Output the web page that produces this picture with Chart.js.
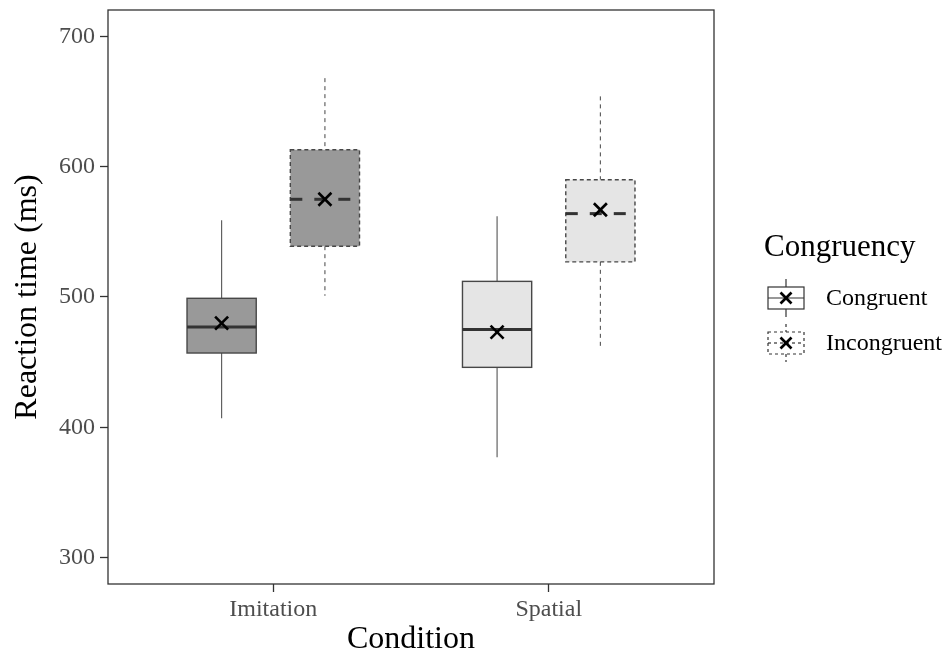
<!DOCTYPE html>
<html>
<head>
<meta charset="utf-8">
<script src="https://cdn.jsdelivr.net/npm/chart.js@4.4.1/dist/chart.umd.min.js"></script>
<style>
  html, body { margin: 0; padding: 0; background: #fff; }
</style>
</head>
<body>
<canvas id="chart" width="952" height="659"></canvas>
<script>
const conditions = ['Imitation', 'Spatial'];
const congruency = ['Congruent', 'Incongruent'];
const yTicks = [300, 400, 500, 600, 700];

// box stats (ms)
const congLower  = [407, 377];
const congQ1     = [457, 446];
const congMedian = [477, 475];
const congQ3     = [499, 512];
const congUpper  = [559, 562];
const congMean   = [480, 473];

const incLower  = [501, 460];
const incQ1     = [539, 527];
const incMedian = [575, 564];
const incQ3     = [613, 590];
const incUpper  = [668, 654];
const incMean   = [575, 567];

const fills = ['#999999', '#e5e5e5'];
const FONT = '"Liberation Serif", "Times New Roman", serif';

function boxData(q1, q3) {
    return conditions.map((c, i) => ({ x: i + 1, y: [q1[i], q3[i]] }));
}

function line(ctx, x1, y1, x2, y2) {
    ctx.beginPath();
    ctx.moveTo(x1, y1);
    ctx.lineTo(x2, y2);
    ctx.stroke();
}

function cross(ctx, x, y, r) {
    ctx.setLineDash([]);
    ctx.strokeStyle = '#000';
    ctx.lineWidth = 2.6;
    line(ctx, x - r, y - r, x + r, y + r);
    line(ctx, x - r, y + r, x + r, y - r);
}

/* whiskers go under the boxes, the rest on top */
const boxPlot = {
    id: 'boxPlot',
    beforeDatasetsDraw(chart) {
        const ctx = chart.ctx, ys = chart.scales.y;
        chart.data.datasets.forEach((ds, di) => {
            chart.getDatasetMeta(di).data.forEach((bar, i) => {
                const { x } = bar.getProps(['x'], true);
                ctx.save();
                ctx.strokeStyle = '#555';
                ctx.lineWidth = 1.1;
                ctx.setLineDash(ds.whiskerDash);
                line(ctx, x, ys.getPixelForValue(ds.upper[i]), x, ys.getPixelForValue(ds.q3[i]));
                line(ctx, x, ys.getPixelForValue(ds.q1[i]), x, ys.getPixelForValue(ds.lower[i]));
                ctx.restore();
            });
        });
    },
    afterDatasetsDraw(chart) {
        const ctx = chart.ctx, ys = chart.scales.y;
        chart.data.datasets.forEach((ds, di) => {
            chart.getDatasetMeta(di).data.forEach((bar, i) => {
                const { x, width } = bar.getProps(['x', 'width'], true);
                const left = x - width / 2, right = x + width / 2;
                const top = ys.getPixelForValue(ds.q3[i]);
                const bot = ys.getPixelForValue(ds.q1[i]);
                const med = ys.getPixelForValue(ds.median[i]);
                ctx.save();
                ctx.strokeStyle = '#474747';
                ctx.lineWidth = 1.4;
                ctx.setLineDash(ds.boxDash);
                ctx.strokeRect(left, top, width, bot - top);
                ctx.strokeStyle = '#333';
                ctx.lineWidth = 3;
                ctx.setLineDash(ds.medianDash);
                line(ctx, left, med, right, med);
                cross(ctx, x, ys.getPixelForValue(ds.mean[i]), 6.5);
                ctx.restore();
            });
        });
    },
    afterDraw(chart) {
        const ctx = chart.ctx, a = chart.chartArea;
        ctx.save();
        // panel border
        ctx.strokeStyle = '#333';
        ctx.lineWidth = 1.3;
        ctx.strokeRect(a.left, a.top, a.right - a.left, a.bottom - a.top);

        // legend
        const lx = a.right + 50;
        const cy = (a.top + a.bottom) / 2;
        ctx.fillStyle = '#000';
        ctx.textBaseline = 'middle';
        ctx.font = '31px ' + FONT;
        ctx.fillText('Congruency', lx, cy - 49);
        congruency.forEach((name, k) => {
            const gy = cy + 1 + k * 45;
            const gx = lx + 22;
            const dash = k === 1 ? [3, 3] : [];
            ctx.strokeStyle = '#333';
            ctx.lineWidth = 1.2;
            ctx.setLineDash(dash);
            line(ctx, gx, gy - 19, gx, gy - 11);
            line(ctx, gx, gy + 11, gx, gy + 19);
            ctx.fillStyle = '#fff';
            ctx.fillRect(gx - 18, gy - 11, 36, 22);
            ctx.strokeRect(gx - 18, gy - 11, 36, 22);
            line(ctx, gx - 18, gy, gx + 18, gy);
            cross(ctx, gx, gy, 5.5);
            ctx.fillStyle = '#000';
            ctx.font = '24px ' + FONT;
            ctx.fillText(name, lx + 62, gy + 1);
        });
        ctx.restore();
    }
};

new Chart(document.getElementById('chart'), {
    type: 'bar',
    data: {
        datasets: [
            {
                label: congruency[0],
                data: boxData(congQ1, congQ3),
                q1: congQ1, q3: congQ3, median: congMedian, mean: congMean,
                lower: congLower, upper: congUpper,
                backgroundColor: fills,
                borderWidth: 0,
                boxDash: [], medianDash: [], whiskerDash: []
            },
            {
                label: congruency[1],
                data: boxData(incQ1, incQ3),
                q1: incQ1, q3: incQ3, median: incMedian, mean: incMean,
                lower: incLower, upper: incUpper,
                backgroundColor: fills,
                borderWidth: 0,
                boxDash: [4, 3], medianDash: [12, 12], whiskerDash: [4, 4]
            }
        ]
    },
    plugins: [boxPlot],
    options: {
        responsive: false,
        animation: false,
        categoryPercentage: 0.75,
        barPercentage: 0.67,
        layout: { padding: { top: 10, right: 238, left: 0, bottom: 0 } },
        plugins: {
            legend: { display: false },
            tooltip: { enabled: false }
        },
        scales: {
            x: {
                type: 'linear',
                min: 0.4,
                max: 2.6,
                offset: false,
                afterBuildTicks: s => { s.ticks = conditions.map((c, i) => ({ value: i + 1 })); },
                afterFit: s => { s.height = 75; s.paddingLeft = 0; s.paddingRight = 0; },
                border: { display: false },
                grid: { offset: false, drawOnChartArea: false, tickLength: 8, tickColor: '#333', tickWidth: 1.3 },
                ticks: {
                    padding: 3,
                    color: '#4d4d4d',
                    font: { family: FONT, size: 24 },
                    callback: v => conditions[Math.round(v) - 1]
                },
                title: {
                    display: true,
                    text: 'Condition',
                    color: '#000',
                    font: { family: FONT, size: 32, lineHeight: 1.2 },
                    padding: { top: 0, bottom: 0 }
                }
            },
            y: {
                min: 279.7,
                max: 720.3,
                afterBuildTicks: s => { s.ticks = yTicks.map(v => ({ value: v })); },
                afterFit: s => { s.width = 108; s.paddingTop = 0; s.paddingBottom = 0; },
                border: { display: false },
                grid: { drawOnChartArea: false, tickLength: 8, tickColor: '#333', tickWidth: 1.3 },
                ticks: {
                    padding: 5,
                    color: '#4d4d4d',
                    font: { family: FONT, size: 24 }
                },
                title: {
                    display: true,
                    text: 'Reaction time (ms)',
                    color: '#000',
                    font: { family: FONT, size: 32, lineHeight: 1.2 },
                    padding: { top: 8, bottom: 0 }
                }
            }
        }
    }
});
</script>
</body>
</html>
